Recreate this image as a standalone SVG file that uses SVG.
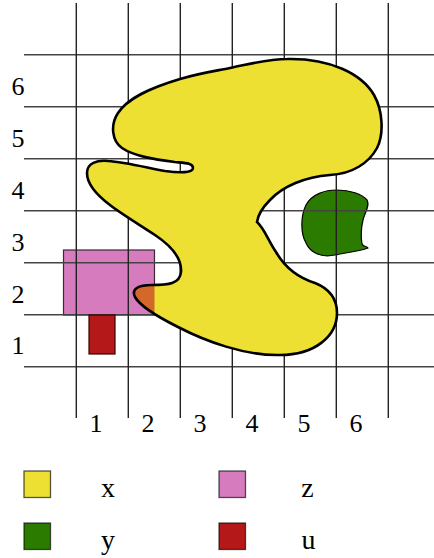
<svg xmlns="http://www.w3.org/2000/svg" width="434" height="558" viewBox="0 0 434 558">
<style>
.h{stroke:#444;stroke-width:1.6}
.v{stroke:#222;stroke-width:1.4}
.lab{font-family:"Liberation Serif",serif;font-size:26px;fill:#000;text-anchor:middle}
.leg{font-family:"Liberation Serif",serif;font-size:28px;fill:#000;text-anchor:middle}
.sw{stroke:#000;stroke-opacity:0.65;stroke-width:1.3}
</style>
<defs>
<path id="xp" d="M287,59 C330,58 362,74 374,95 C383,111 384,134 377,148 C369,163 352,174 330,175 C305,177 283,186 270,200 C262,208 258,215 257,222 C264,228 268,240 276,252 C284,266 296,277 315,283 C330,289 337,300 337,313 C337,336 315,355 280,355 C245,356 205,341 178,327 C160,318 140,306 135,297 C131,289 138,285 152,285 C168,285 180,284 181,272 C182,258 170,245 155,235 C140,225 120,213 110,205 C98,196 87,185 87,173 C87,163 97,160 108,161 C125,162 148,168 165,171 C180,173 193,173 193,168 C193,163 185,163 175,162 C160,160 135,157 122,148 C112,141 110,125 118,113 C128,98 150,88 180,79 C200,73 215,71 230,68 C250,64 268,59 287,59 Z"/>
<clipPath id="zc"><rect x="63.5" y="250" width="91" height="65"/></clipPath>
</defs>
<g id="z"><rect x="63.5" y="250" width="91" height="65" fill="#d67bbd" stroke="#3a2a3a" stroke-width="1.2"/></g>
<g id="y"><path d="M337,190 C350,190 362,194 367,200 C370,206 365,212 363,220 C361,228 361,238 362,244 C363,247 368,246 368,248 C360,251 345,253 335,255 C320,258 310,252 306,243 C300,233 301,215 306,205 C312,194 325,190 337,190 Z" fill="#2a7b00" stroke="#000" stroke-width="1.2"/></g>
<g id="grid">
<line class="h" x1="24" y1="54.7" x2="434" y2="54.7"/>
<line class="h" x1="24" y1="106.7" x2="434" y2="106.7"/>
<line class="h" x1="24" y1="158.7" x2="434" y2="158.7"/>
<line class="h" x1="24" y1="210.7" x2="434" y2="210.7"/>
<line class="h" x1="24" y1="262.7" x2="434" y2="262.7"/>
<line class="h" x1="24" y1="314.7" x2="434" y2="314.7"/>
<line class="h" x1="24" y1="366.7" x2="434" y2="366.7"/>
<line class="v" x1="76.3" y1="3" x2="76.3" y2="418"/>
<line class="v" x1="128.3" y1="3" x2="128.3" y2="418"/>
<line class="v" x1="180.3" y1="3" x2="180.3" y2="418"/>
<line class="v" x1="232.3" y1="3" x2="232.3" y2="418"/>
<line class="v" x1="284.3" y1="3" x2="284.3" y2="418"/>
<line class="v" x1="336.3" y1="3" x2="336.3" y2="418"/>
<line class="v" x1="388.3" y1="3" x2="388.3" y2="418"/>
</g>
<g id="x">
<use href="#xp" fill="#ede032"/>
<use href="#xp" fill="#d4682a" clip-path="url(#zc)"/>
<use href="#xp" fill="none" stroke="#000" stroke-width="2.6"/>
</g>
<g id="u"><rect x="89" y="315" width="26" height="39" fill="#b51818" stroke="#3a0000" stroke-width="1.2"/></g>
<g id="labels">
<text class="lab" x="18" y="95">6</text>
<text class="lab" x="18" y="147">5</text>
<text class="lab" x="18" y="199">4</text>
<text class="lab" x="18" y="251">3</text>
<text class="lab" x="18" y="303">2</text>
<text class="lab" x="18" y="354">1</text>
<text class="lab" x="96" y="432">1</text>
<text class="lab" x="148" y="432">2</text>
<text class="lab" x="200" y="432">3</text>
<text class="lab" x="252" y="432">4</text>
<text class="lab" x="304" y="432">5</text>
<text class="lab" x="356" y="432">6</text>
</g>
<g id="legend">
<rect class="sw" x="24" y="471" width="26.5" height="26.5" fill="#ede032"/>
<rect class="sw" x="24" y="523" width="26.5" height="26.5" fill="#2a7b00"/>
<rect class="sw" x="219" y="471" width="26.5" height="26.5" fill="#d67bbd"/>
<rect class="sw" x="219" y="523" width="26.5" height="26.5" fill="#b51818"/>
<text class="leg" x="108" y="497">x</text>
<text class="leg" x="108" y="549">y</text>
<text class="leg" x="307.5" y="497">z</text>
<text class="leg" x="308.5" y="549">u</text>
</g>
</svg>
